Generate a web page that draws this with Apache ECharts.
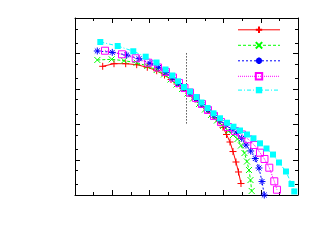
<!DOCTYPE html>
<html><head><meta charset="utf-8">
<script src="https://cdn.jsdelivr.net/npm/echarts@6/dist/echarts.min.js"></script>
<style>html,body{margin:0;padding:0;background:#fff;}#c{width:325px;height:245px;}</style>
</head><body><div id="c"></div>
<script>
// x range and ticks
const xMin = 0, xMax = 6, xStep = 1;
const yMin = 1e-5, yMax = 1;
const yMajorTicks = [1e-5,1e-4,1e-3,1e-2,1e-1,1];
const yMinorTicks = [2e-5,5e-5,2e-4,5e-4,2e-3,5e-3,2e-2,5e-2,2e-1,5e-1];
const seriesNames = ['s1','s2','s3','s4','s5'];

const redData = [[0.745,0.0432],[1.049,0.0512],[1.364,0.0512],[1.660,0.0480],[1.945,0.0405],[2.198,0.0324],[2.408,0.0245],[2.583,0.0183],[2.744,0.0137],[2.906,0.0102],[3.067,0.00736],[3.228,0.00515],[3.390,0.00360],[3.551,0.00252],[3.713,0.00176],[3.874,0.00123],[3.982,8.17e-4],[4.076,5.12e-4],[4.170,3.14e-4],[4.251,1.69e-4],[4.331,8.55e-5],[4.399,4.47e-5],[4.466,2.11e-5]];
const greenData = [[0.600,0.0652],[0.987,0.0681],[1.318,0.0622],[1.660,0.0546],[1.945,0.0441],[2.198,0.0340],[2.394,0.0254],[2.569,0.0183],[2.731,0.0132],[2.879,0.00986],[3.027,0.00736],[3.175,0.00532],[3.336,0.00372],[3.497,0.00260],[3.659,0.00182],[3.820,0.00127],[3.982,8.89e-4],[4.130,6.43e-4],[4.251,4.95e-4],[4.372,3.82e-4],[4.466,2.50e-4],[4.560,1.53e-4],[4.627,8.83e-5],[4.681,5.08e-5],[4.722,2.65e-5],[4.754,1.30e-5]];
const blueData = [[0.600,0.117],[1.003,0.107],[1.391,0.0901],[1.722,0.0708],[2.018,0.0525],[2.252,0.0405],[2.448,0.0288],[2.623,0.0202],[2.785,0.0141],[2.932,0.0102],[3.094,0.00736],[3.255,0.00515],[3.417,0.00360],[3.578,0.00252],[3.740,0.00176],[3.901,0.00127],[4.062,9.48e-4],[4.224,7.08e-4],[4.358,5.64e-4],[4.485,4.0e-4],[4.600,2.58e-4],[4.727,1.75e-4],[4.851,1.07e-4],[4.950,5.79e-5],[5.031,2.40e-5],[5.093,1.0e-5]];
const magentaData = [[0.807,0.119],[1.264,0.0944],[1.633,0.0728],[1.972,0.0546],[2.233,0.0400],[2.448,0.0299],[2.637,0.0208],[2.798,0.0146],[2.946,0.01054],[3.094,0.00785],[3.255,0.00550],[3.417,0.00372],[3.578,0.00252],[3.740,0.00171],[3.928,0.00115],[4.116,8.34e-4],[4.305,6.43e-4],[4.493,5.12e-4],[4.662,3.74e-4],[4.824,2.58e-4],[4.977,1.57e-4],[5.098,1.04e-4],[5.227,5.90e-5],[5.362,2.44e-5],[5.434,1.41e-5]];
const cyanData = [[0.681,0.210],[1.149,0.162],[1.568,0.115],[1.902,0.0807],[2.193,0.0553],[2.435,0.0351],[2.618,0.0238],[2.771,0.0163],[2.932,0.01125],[3.094,0.00840],[3.269,0.00586],[3.403,0.00410],[3.565,0.00287],[3.726,0.00203],[3.901,0.00147],[4.089,0.00110],[4.264,8.49e-4],[4.439,6.64e-4],[4.627,5.12e-4],[4.802,4.00e-4],[4.977,2.88e-4],[5.152,2.06e-4],[5.327,1.39e-4],[5.488,8.28e-5],[5.677,4.61e-5],[5.825,2.05e-5],[5.900,1.26e-5]];
const vLineData = [[3,0.1],[3,0.001]];

const chart = echarts.init(document.getElementById('c'), null, {renderer:'canvas'});
const axisCommon = {
  axisLine:{show:true, onZero:false, lineStyle:{color:'#000', width:1}},
  axisLabel:{show:false},
  splitLine:{show:false}
};
function xAx(pos){
  return Object.assign({type:'value', position:pos, min:xMin, max:xMax, interval:xStep,
    axisTick:{show:true, inside:true, length:5, lineStyle:{color:'#000'}},
    minorTick:{show:true, splitNumber:2, length:3, lineStyle:{color:'#000'}}}, axisCommon);
}
function yAx(pos){
  return Object.assign({type:'log', logBase:10, position:pos, min:yMin, max:yMax,
    axisTick:{show:false}}, axisCommon);
}
function lineSeries(name, data, color, dash, symbol, size, filled){
  return {
    type:'line', name:name, data:data, showSymbol:true, symbol:symbol, symbolSize:size,
    lineStyle:{color:color, width:1, type:dash},
    itemStyle: filled ? {color:color, borderWidth:0} : {color:'none', borderColor:color, borderWidth:1},
    emphasis:{disabled:true}, animation:false, z:3
  };
}
function tickSeries(values, len){
  return {type:'custom', silent:true, animation:false, clip:false, z:4,
    data:values.map(function(v){return [xMin, v];}),
    renderItem:function(params, api){
      const y = api.value(1);
      const pL = api.coord([xMin, y]);
      const pR = api.coord([xMax, y]);
      const yy = Math.round(pL[1]) + 0.5;
      return {type:'group', children:[
        {type:'line', shape:{x1:pL[0], y1:yy, x2:pL[0]+len, y2:yy}, style:{stroke:'#000', lineWidth:1}},
        {type:'line', shape:{x1:pR[0]-len, y1:yy, x2:pR[0], y2:yy}, style:{stroke:'#000', lineWidth:1}}
      ]};
    }};
}
const plus = 'path://M0,5L10,5M5,0L5,10';
const cross = 'path://M1,1L9,9M9,1L1,9';
const star = 'path://M0,5L10,5M5,0L5,10M1.5,1.5L8.5,8.5M8.5,1.5L1.5,8.5';

chart.setOption({
  animation:false,
  backgroundColor:'#fff',
  grid:{left:75, top:18, right:27, bottom:50, containLabel:false},
  xAxis:[xAx('bottom'), xAx('top')],
  yAxis:[yAx('left'), yAx('right')],
  legend:{orient:'vertical', left:237.5, top:24.1, padding:0, itemWidth:42, itemHeight:8, itemGap:4.1,
    data:seriesNames, formatter:function(){return '';}, selectedMode:false,
    lineStyle:{width:1}, textStyle:{fontSize:1}},
  series:[
    lineSeries(seriesNames[0], redData, '#ff0000', 'solid', plus, 7, false),
    lineSeries(seriesNames[1], greenData, '#00ff00', [3,2], cross, 6, false),
    lineSeries(seriesNames[2], blueData, '#0000ff', [2,2], star, 7, false),
    lineSeries(seriesNames[3], magentaData, '#ff00ff', [1,1], 'rect', 7, false),
    lineSeries(seriesNames[4], cyanData, '#00ffff', [4,2,1,2], 'rect', 6, true),
    {type:'line', name:'vline', data:vLineData, showSymbol:false, symbol:'none',
      lineStyle:{color:'#000', width:1, type:[1,2]}, animation:false, silent:true, z:2},
    tickSeries(yMajorTicks, 5),
    tickSeries(yMinorTicks, 3)
  ]
});
</script>
</body></html>
